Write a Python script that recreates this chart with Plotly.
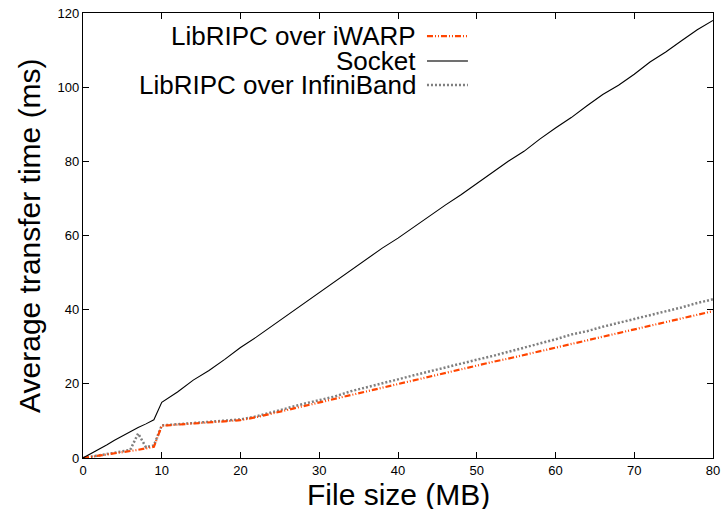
import plotly.graph_objects as go

# ---- data ----
file_size = [0, 1, 2, 3, 4, 5, 6, 7, 8, 9, 10, 12, 14, 16, 18, 20, 22, 24, 26, 28, 30,
             32, 34, 36, 38, 40, 42, 44, 46, 48, 50, 52, 54, 56, 58, 60, 62, 64, 66, 68,
             70, 72, 74, 76, 78, 80]

iwarp = [0, 0.3, 0.6, 0.9, 1.2, 1.5, 1.9, 2.2, 2.6, 3.0, 8.7, 9.0, 9.3, 9.6, 9.9, 10.2,
         11.0, 12.0, 13.0, 14.1, 15.1, 16.1, 17.1, 18.1, 19.1, 20.1, 21.1, 22.0, 23.0,
         24.0, 24.9, 25.9, 26.8, 27.8, 28.8, 29.8, 30.7, 31.7, 32.7, 33.7, 34.6, 35.6,
         36.6, 37.6, 38.6, 39.6]

socket = [0, 1.1, 2.3, 3.5, 4.8, 6.0, 7.1, 8.2, 9.2, 10.3, 15.0, 17.8, 21.0, 23.6, 26.6,
          29.8, 32.6, 35.6, 38.4, 41.5, 44.6, 47.4, 50.4, 53.4, 56.6, 59.3, 62.3, 65.2,
          68.2, 71.0, 74.0, 77.0, 80.0, 82.7, 86.0, 89.0, 91.8, 95.0, 98.0, 100.5, 103.5,
          106.8, 109.5, 112.5, 115.5, 118.0]

infiniband = [0, 0.3, 0.7, 1.0, 1.4, 1.8, 2.2, 6.6, 2.9, 3.4, 8.8, 9.1, 9.4, 9.7, 10.0,
              10.4, 11.2, 12.4, 13.6, 14.6, 15.6, 16.6, 18.0, 19.0, 20.0, 21.2, 22.3, 23.3,
              24.4, 25.4, 26.5, 27.5, 28.6, 29.7, 30.8, 32.0, 33.3, 34.2, 35.4, 36.4, 37.5,
              38.5, 39.6, 40.6, 41.8, 42.8]

series_names = ["LibRIPC over iWARP", "Socket", "LibRIPC over InfiniBand"]
x_ticks = [0, 10, 20, 30, 40, 50, 60, 70, 80]
y_ticks = [0, 20, 40, 60, 80, 100, 120]

# ---- styles ----
ORANGE = "#ff4500"
GRAY = "#7f7f7f"
ORANGE_DASH = "6px,2px,1px,2px,1px,2px"
GRAY_DASH = "2px,2px"
FONT = "Liberation Sans, Arial, Helvetica, sans-serif"

fig = go.Figure()
fig.add_trace(go.Scatter(x=file_size, y=infiniband, mode="lines", name=series_names[2],
                         line=dict(color=GRAY, width=2.5, dash=GRAY_DASH)))
fig.add_trace(go.Scatter(x=file_size, y=iwarp, mode="lines", name=series_names[0],
                         line=dict(color=ORANGE, width=2.2, dash=ORANGE_DASH)))
fig.add_trace(go.Scatter(x=file_size, y=socket, mode="lines", name=series_names[1],
                         line=dict(color="black", width=1.1)))

axis_common = dict(showgrid=False, zeroline=False, showline=True, linecolor="black",
                   linewidth=1.2, mirror="ticks", ticks="inside", ticklen=6,
                   tickcolor="black", tickwidth=1, automargin=False,
                   tickfont=dict(family=FONT, size=13, color="black"))

fig.update_xaxes(range=[0, 80], tickvals=x_ticks, **axis_common)
fig.update_yaxes(range=[0, 120], tickvals=y_ticks, **axis_common)

# gnuplot-style legend: right aligned text, sample on the right
legend_rows = [0.948, 0.892, 0.838]
legend_styles = [dict(color=ORANGE, width=2.2, dash=ORANGE_DASH),
                 dict(color="#404040", width=1.5),
                 dict(color=GRAY, width=2.5, dash=GRAY_DASH)]
annotations = []
shapes = []
for name, yy, st in zip(series_names, legend_rows, legend_styles):
    annotations.append(dict(x=0.532, y=yy, xref="paper", yref="paper", text=name,
                            showarrow=False, xanchor="right", yanchor="middle",
                            font=dict(family=FONT, size=26, color="black")))
    shapes.append(dict(type="line", xref="paper", yref="paper", x0=0.546, x1=0.611,
                       y0=yy, y1=yy, line=st))

annotations.append(dict(x=0.5, y=-0.082, xref="paper", yref="paper", text="File size (MB)",
                        showarrow=False, xanchor="center", yanchor="middle",
                        font=dict(family=FONT, size=30, color="black")))
annotations.append(dict(x=-0.085, y=0.5, xref="paper", yref="paper",
                        text="Average transfer time (ms)", textangle=-90,
                        showarrow=False, xanchor="center", yanchor="middle",
                        font=dict(family=FONT, size=30, color="black")))

fig.update_layout(width=722, height=509, margin=dict(l=83, r=9, t=13, b=51, autoexpand=False),
                  paper_bgcolor="white", plot_bgcolor="white", showlegend=False,
                  annotations=annotations, shapes=shapes)

fig.write_html("out.html", config={"displayModeBar": False},
               post_script="document.body.style.margin='0';document.body.style.overflow='hidden';")
